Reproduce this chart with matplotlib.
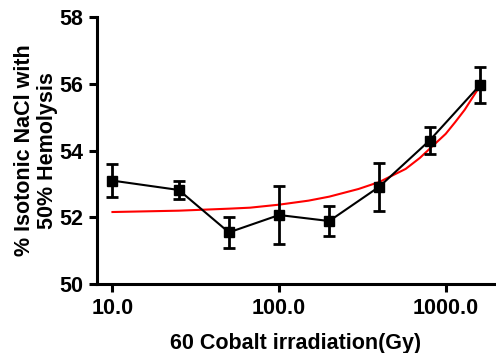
import numpy as np
import matplotlib.pyplot as plt
from matplotlib.ticker import FixedLocator, NullLocator, FixedFormatter

plt.rcParams['font.family'] = ['Liberation Sans', 'DejaVu Sans']
plt.rcParams['font.weight'] = 'bold'

# measured dose points
dose = [10, 25, 50, 100, 200, 400, 800, 1600]
nacl_mean = [53.10, 52.82, 51.55, 52.07, 51.89, 52.92, 54.30, 55.95]
nacl_err = [0.50, 0.27, 0.47, 0.87, 0.45, 0.72, 0.40, 0.54]

# red fitted curve
fit_dose = [10, 25, 50, 67, 100, 150, 200, 300, 400, 500, 575, 700, 800, 1000, 1140, 1300, 1600]
fit_nacl = [52.16, 52.20, 52.26, 52.29, 52.38, 52.50, 52.62, 52.85, 53.06, 53.30, 53.45, 53.78, 54.05, 54.50, 54.85, 55.22, 55.92]

fig = plt.figure(figsize=(4.96, 3.53), dpi=100)
ax = fig.add_axes([0.196, 0.195, 0.800, 0.757])

ax.plot(fit_dose, fit_nacl, color='#ff0000', lw=1.5, zorder=2)
ax.errorbar(dose, nacl_mean, yerr=nacl_err, color='black', lw=1.5,
            marker='s', ms=7, elinewidth=2, capsize=4, capthick=2, zorder=3)

ax.set_xscale('log')
ax.set_xlim(8.1, 1950)
ax.set_ylim(50, 58)
ax.xaxis.set_major_locator(FixedLocator([10, 100, 1000]))
ax.xaxis.set_major_formatter(FixedFormatter(['10.0', '100.0', '1000.0']))
ax.xaxis.set_minor_locator(NullLocator())
ax.set_yticks([50, 52, 54, 56, 58])

for side in ['top', 'right']:
    ax.spines[side].set_visible(False)
for side in ['left', 'bottom']:
    ax.spines[side].set_linewidth(2.2)
ax.tick_params(width=2.2, length=6, labelsize=15.5, pad=4)
for lab in ax.get_xticklabels() + ax.get_yticklabels():
    lab.set_fontweight('bold')

ax.set_xlabel('60 Cobalt irradiation(Gy)', fontsize=15.5, fontweight='bold', labelpad=10)
ax.set_ylabel('% Isotonic NaCl with\n50% Hemolysis', fontsize=15.5, fontweight='bold',
              labelpad=1, linespacing=1.1)

fig.savefig('out.png', dpi=100)
